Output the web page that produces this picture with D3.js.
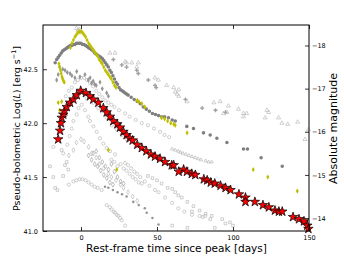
<!DOCTYPE html>
<html><head><meta charset="utf-8">
<script src="https://cdn.jsdelivr.net/npm/d3@7"></script>
<style>body{margin:0;background:#fff}svg{display:block}text{font-family:"DejaVu Sans",sans-serif}</style>
</head><body><div id="c"></div>
<script>
// ---------- DATA ----------
const xTicks = [0, 50, 100, 150];
const yTicks = [41.0, 41.5, 42.0, 42.5];
const magTicks = [-14, -15, -16, -17, -18];

const redStars = [[-15,41.85],[-13.8,41.93],[-13.2,42.0],[-12.7,42.05],[-11.7,42.08],[-11,42.11],[-9.4,42.15],[-7.2,42.19],[-5,42.22],[-2.8,42.26],[-0.2,42.30],[3.3,42.28],[5.9,42.25],[8.1,42.22],[11.4,42.19],[14.7,42.14],[16.9,42.10],[19.1,42.06],[21.3,42.02],[23.9,41.99],[25.7,41.96],[27.9,41.92],[30,41.89],[32,41.86],[34,41.84],[37,41.80],[40,41.77],[43,41.74],[46,41.71],[48.7,41.69],[52,41.67],[55.3,41.64],[59.7,41.61],[61,41.61],[64.3,41.55],[67.5,41.57],[69.7,41.55],[72.9,41.53],[75.2,41.52],[80.8,41.48],[83,41.47],[85.4,41.45],[88,41.44],[91.8,41.42],[95.1,41.40],[98.4,41.38],[103.9,41.34],[108.2,41.31],[108.2,41.27],[114.4,41.27],[119.7,41.24],[123.6,41.22],[127.6,41.19],[130.2,41.18],[132.4,41.18],[139.5,41.13],[143.4,41.11],[146.7,41.09],[148.9,41.05],[149.6,41.02]];

const darkHex = [[-17,42.56],[-16,42.59],[-15,42.61],[-14,42.63],[-13,42.65],[-12,42.67],[-11,42.68],[-10,42.69],[-9,42.70],[-8,42.71],[-7,42.72],[-6,42.72],[-5,42.73],[-4,42.73],[-3,42.74],[-2,42.74],[-1,42.74],[0,42.74],[1,42.73],[2,42.73],[3,42.72],[4,42.71],[5,42.70],[6,42.69],[7,42.68],[8,42.67],[9,42.65],[10,42.64],[11,42.63],[12,42.62],[13,42.61],[14,42.60],[15,42.58],[16,42.56],[17,42.54],[18,42.52],[19,42.49],[20,42.47],[21,42.44],[22,42.41],[23,42.38],[24,42.36],[25,42.33],[26,42.31],[27,42.30],[28,42.29],[29,42.28],[30,42.27],[31,42.26],[33,42.24],[35,42.22],[37,42.20],[39,42.18],[41,42.15],[43,42.13],[45,42.11],[47,42.09],[49,42.08],[51,42.07],[53,42.06],[55,42.06],[57.5,42.05],[60,42.03],[62,42.02],[69.6,41.97],[74,41.95],[80.6,41.91],[85,41.89],[89.4,41.86],[96,41.82],[106.9,41.76],[109.5,41.76],[118.5,41.68],[132.4,41.60]];

const yellowPts = [[-14.5,42.55],[-14,42.52],[-13.5,42.49],[-13,42.46],[-12.5,42.43],[-12,42.41],[-11.5,42.39],[-11,42.38],[-15,42.19],[-14,42.12],[-12.7,42.20],[-7,42.70],[-6,42.74],[-5,42.77],[-4,42.80],[-3,42.82],[-2,42.84],[-1,42.85],[0,42.85],[1,42.84],[2,42.82],[3,42.80],[4,42.77],[5,42.74],[6,42.72],[7,42.70],[8,42.68],[9,42.66],[10,42.64],[11,42.62],[12,42.59],[13,42.57],[14,42.55],[15,42.52],[16,42.49],[17,42.47],[18,42.45],[19,42.43],[20,42.41],[21,42.38],[22,42.35],[23,42.33],[18,41.75],[23.5,41.57],[37,42.21],[38,42.20],[40,42.18],[42,42.15],[53,42.05],[55,42.04],[57,42.02],[59,42.00],[61,41.99],[62,41.98],[69.8,41.91],[113.3,41.57],[122.9,41.50],[142.3,41.37]];

const triLight = [[-3,42.88],[-2,42.86],[-1,42.87],[0,42.84],[19,42.65],[22.4,42.65],[29,42.57],[30,42.56],[33.4,42.56],[36.7,42.52],[37.7,42.56],[48.7,42.42],[50.9,42.40],[56.3,42.35],[61,42.33],[62,42.29],[63.2,42.27],[64.3,42.31],[64.3,42.25],[69.8,42.20],[87.4,42.19],[91.6,42.20],[93.8,42.09],[96,42.10],[97,42.16],[103.6,42.13],[106.9,42.09],[106.9,42.06],[109,42.09],[121.2,42.05],[122.3,42.12],[123.4,42.10],[130,42.05],[132.2,42.00],[136,41.99],[142.5,42.01],[147.4,41.85],[149.6,41.94]];

const grayPlus = [[21.3,42.59],[26.8,42.54],[30,42.52],[36.7,42.49],[37.7,42.46],[44.3,42.40],[48.7,42.35],[49.5,42.33],[68.7,42.22],[79.7,42.14],[88.5,42.12],[95,42.10]];

const midCloud = [[-16,42.40],[-15,42.45],[-14,42.52],[-12,42.50],[-10.5,42.49],[-9,42.47],[-7.2,42.46],[-6,42.44],[-4,42.42],[-2.8,42.48],[-0.7,42.43],[2.6,42.45],[4.8,42.40],[6,42.42],[7,42.37],[8,42.39],[9,42.36],[10,42.35],[12.5,42.38],[14,42.32],[16.9,42.28],[18,42.25]];

const bandAbove = [[-10,42.25],[-8,42.30],[-6,42.33],[-4,42.38],[-2,42.40],[0,42.42],[2,42.42],[4,42.40],[6,42.37],[8,42.34],[10,42.30],[12,42.27],[14,42.24],[16,42.21],[18,42.19],[20,42.17],[22,42.15],[25,42.12],[29,42.09],[32,42.06],[36,42.03],[40,42.00],[44,41.98],[48,41.95],[52,41.92],[55,41.89],[58,41.87]];

const triLine = [[60,41.76],[62,41.75],[64,41.74],[65.4,41.73],[67,41.72],[69,41.71],[71,41.70],[73,41.69],[75,41.68],[77,41.67],[79,41.66],[82,41.65],[84,41.64],[86,41.64]];

const cloudBelow = [[-18.2,41.78],[-11.7,41.72],[-9,41.80],[-7.5,41.88],[-6.1,41.95],[-5,42.02],[-2.8,42.08],[-1.7,42.14],[0.4,42.17],[2.6,42.12],[4.8,42.06],[5.9,42.02],[8.1,41.97],[10.3,41.92],[12.5,41.86],[14.7,41.81],[16.9,41.77],[19.1,41.74],[22.4,41.71],[3.7,42.23],[8.1,42.19],[11.4,42.14],[13.6,42.11],[16.9,42.05],[20.2,41.98],[23.5,41.94],[26.8,41.89],[30.1,41.85]];

const diamondCloud = [[-8,41.70],[-5,41.75],[-3,41.82],[0,41.85],[2,41.83],[5,41.78],[7,41.72],[10,41.68],[12,41.62],[15,41.58],[18,41.53],[20,41.50],[23,41.47],[26,41.43],[28,41.40],[31,41.36],[34,41.32],[37,41.28]];

const circLow = [[-8,41.43],[-5,41.46],[-3,41.47],[-1,41.48],[1,41.48],[3,41.47],[5,41.45],[7,41.43],[9,41.41],[11,41.40],[13.6,41.38],[16.9,41.24],[19,41.22],[20.2,41.20],[21.5,41.18],[22.4,41.17],[23.5,41.15],[24.6,41.14],[25.7,41.12],[26.8,41.10],[29,41.05]];

const leftScatter = [[-20.4,41.60],[-18.2,41.50],[-17,41.40],[-15.5,41.38],[-11.7,41.51],[-10.5,41.61],[-9.4,41.64],[-8.4,41.57],[-12.7,41.75]];

const lowerCircles = [[29,41.63],[31,41.61],[33,41.58],[35,41.55],[37,41.53],[39,41.50],[42,41.46],[45,41.42],[48.7,41.38],[51,41.36],[55.3,41.31],[60,41.26],[64,41.21],[68,41.18],[73,41.15],[78,41.14],[81.7,41.14],[20,41.66],[22,41.64],[24,41.60],[26,41.62],[28,41.58],[30,41.56],[32,41.53],[34,41.50],[36,41.48],[38,41.45],[40,41.44]];

const lowerSquares = [[44,41.51],[47,41.49],[50,41.47],[53,41.44],[57,41.40],[60,41.39],[62,41.36],[64,41.33],[66.3,41.31],[70,41.27],[74,41.23],[78,41.19],[82,41.16],[86,41.14],[73,41.18],[80,41.13],[85,41.11],[92.9,41.11],[95,41.07],[98,41.08],[100,41.05],[88,41.03],[70,41.03],[60,41.05]];

const darkSmallLow = [[15.8,41.41],[18,41.40],[21,41.38],[24,41.36],[27,41.34],[30,41.32],[34.4,41.27],[38,41.24],[42,41.21],[43.2,41.17],[47,41.12],[51,41.06]];

const denseBlob = [[5,41.70],[7,41.66],[8,41.72],[9,41.62],[10,41.74],[11,41.60],[12,41.68],[13,41.56],[14,41.64],[15,41.52],[16,41.60],[17,41.49],[18,41.57],[19,41.45],[20,41.62],[21,41.43],[22,41.55],[24,41.50],[26,41.46],[28,41.44]];

// ---------- CHART ----------
const W = 344, H = 258;
const m = {l: 43, r: 35, t: 25, b: 27};
const svg = d3.select("#c").append("svg").attr("width", W).attr("height", H);
const x = d3.scaleLinear().domain([-25, 150]).range([m.l, W - m.r]);
const y = d3.scaleLinear().domain([41, 42.91]).range([H - m.b, m.t]);
const L0 = 41.12;
const mag = d3.scaleLinear().domain([-14 - 2.5 * (41 - L0), -14 - 2.5 * (42.91 - L0)]).range([H - m.b, m.t]);

const plot = svg.append("g");
const light = "#b0b0b0", mid = "#959595", dark = "#7f7f7f";
const layers = [
  {d: leftScatter, s: d3.symbolSquare, size: 7, fill: "none", stroke: light},
  {d: circLow, s: d3.symbolCircle, size: 8, fill: "none", stroke: light},
  {d: lowerSquares, s: d3.symbolSquare, size: 7, fill: "none", stroke: light},
  {d: lowerCircles, s: d3.symbolCircle, size: 8, fill: "none", stroke: light},
  {d: darkSmallLow, s: d3.symbolCircle, size: 5, fill: mid, stroke: "none"},
  {d: denseBlob, s: d3.symbolDiamond, size: 7, fill: "none", stroke: mid},
  {d: diamondCloud, s: d3.symbolDiamond, size: 7, fill: "none", stroke: light},
  {d: cloudBelow, s: d3.symbolCircle, size: 8, fill: "none", stroke: light},
  {d: bandAbove, s: d3.symbolCircle, size: 8, fill: "none", stroke: light},
  {d: triLine, s: d3.symbolTriangle, size: 5, fill: "none", stroke: light},
  {d: midCloud, s: d3.symbolDiamond, size: 8, fill: mid, stroke: "none"},
  {d: grayPlus, s: d3.symbolCross, size: 9, fill: "#a0a0a0", stroke: "none"},
  {d: triLight, s: d3.symbolTriangle, size: 7, fill: "none", stroke: light},
  {d: darkHex, s: d3.symbolCircle, size: 10, fill: dark, stroke: "none"},
  {d: yellowPts, s: d3.symbolDiamond, size: 8, fill: "#bfbf00", stroke: "none"}
];
layers.forEach(L => {
  plot.append("g").selectAll("path").data(L.d).join("path")
    .attr("transform", p => `translate(${x(p[0])},${y(p[1])})`)
    .attr("d", d3.symbol().type(L.s).size(L.size))
    .attr("fill", L.fill).attr("stroke", L.stroke).attr("stroke-width", 0.6);
});
plot.append("g").selectAll("path").data(redStars).join("path")
  .attr("transform", p => `translate(${x(p[0])},${y(p[1])})`)
  .attr("d", d3.symbol().type(d3.symbolStar).size(28))
  .attr("fill", "#ff0000").attr("stroke", "#000").attr("stroke-width", 0.7);

// axes
const fs = "6.5px";
function style(g) {
  g.select(".domain").remove();
  g.selectAll("line").attr("stroke", "#000").attr("stroke-width", 0.8);
  g.selectAll("text").attr("font-size", fs).attr("fill", "#000").attr("font-family", "DejaVu Sans");
}
svg.append("g").attr("transform", `translate(0,${H - m.b})`)
  .call(d3.axisBottom(x).tickValues(xTicks).tickSizeInner(-4).tickSizeOuter(0).tickPadding(4).tickFormat(d3.format("d"))).call(style);
svg.append("g").attr("transform", `translate(0,${m.t})`)
  .call(d3.axisTop(x).tickValues(xTicks).tickSizeInner(-4).tickSizeOuter(0).tickFormat("")).call(style);
svg.append("g").attr("transform", `translate(${m.l},0)`)
  .call(d3.axisLeft(y).tickValues(yTicks).tickSizeInner(-4).tickSizeOuter(0).tickPadding(5).tickFormat(d3.format(".1f"))).call(style);
svg.append("g").attr("transform", `translate(${W - m.r},0)`)
  .call(d3.axisRight(mag).tickValues(magTicks).tickSizeInner(-4).tickSizeOuter(0).tickPadding(3).tickFormat(d3.format("d"))).call(style);

svg.append("rect").attr("x", m.l).attr("y", m.t).attr("width", W - m.l - m.r).attr("height", H - m.t - m.b)
  .attr("fill", "none").attr("stroke", "#000").attr("stroke-width", 1);

// titles
svg.append("text").attr("x", (74 + 279) / 2).attr("y", 252).attr("text-anchor", "middle")
  .attr("font-size", "10.5px").text("Rest-frame time since peak [days]");
const lt = svg.append("text").attr("transform", `translate(20,${(40 + 217) / 2}) rotate(-90)`)
  .attr("text-anchor", "middle").attr("font-size", "9.5px");
lt.append("tspan").text("Pseudo-bolometric Log(");
lt.append("tspan").attr("font-style", "italic").text("L");
lt.append("tspan").text(") [erg s");
lt.append("tspan").attr("font-size", "6.5px").attr("dy", "-4").text("\u22121");
lt.append("tspan").attr("dy", "4").text("]");
svg.append("text").attr("transform", `translate(337,${(68 + 189) / 2}) rotate(-90)`)
  .attr("text-anchor", "middle").attr("font-size", "11px").text("Absolute magnitude");
</script></body></html>
